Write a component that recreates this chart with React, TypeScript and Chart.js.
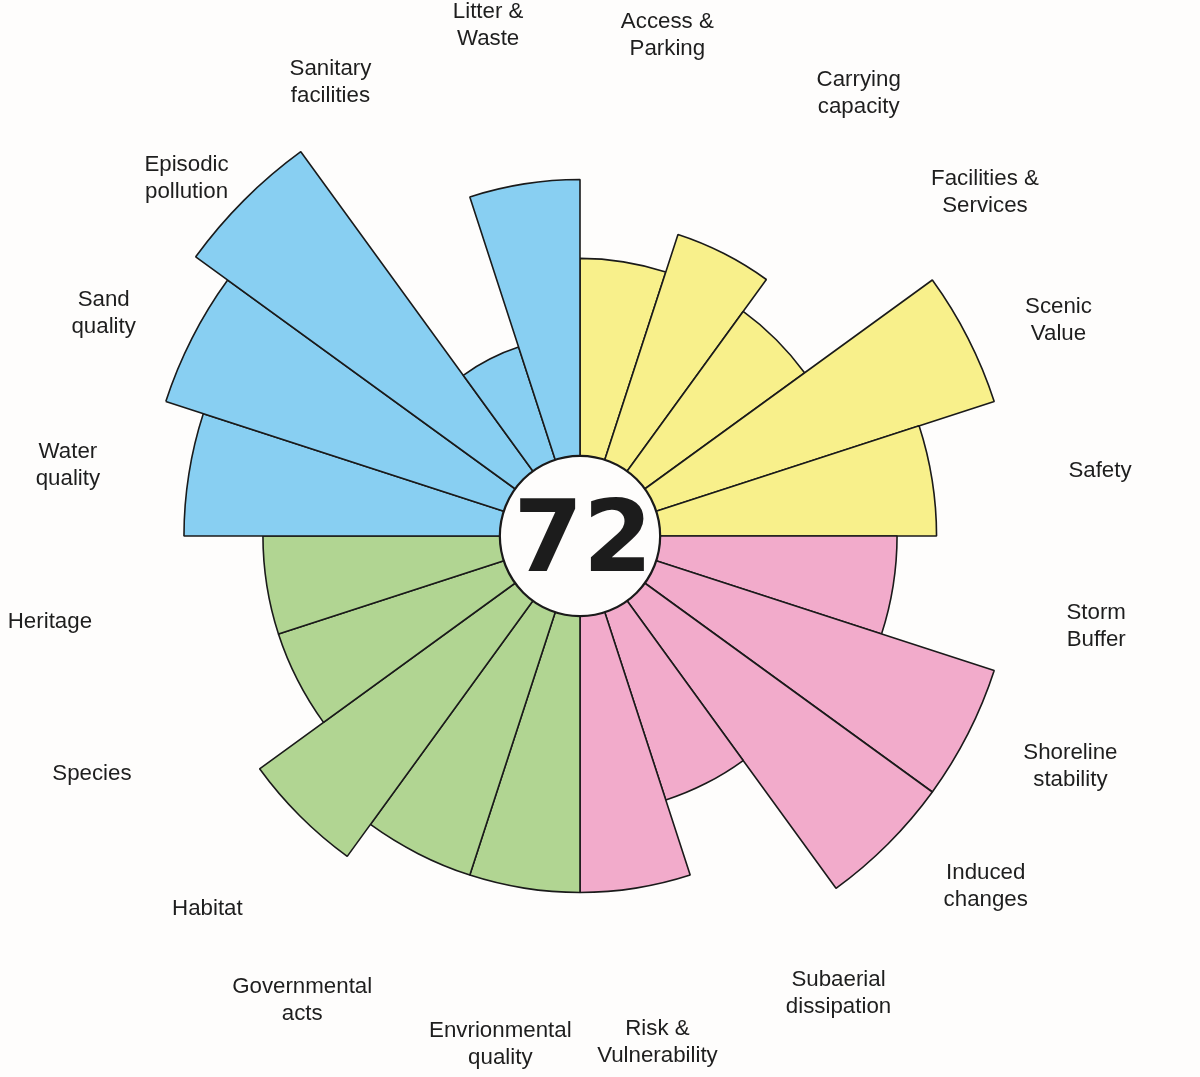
import React, { useEffect, useRef } from "react";
import { Chart, registerables } from "chart.js";

Chart.register(...registerables);

// ---- data ----
const categories: string[][] = [
  ["Access &", "Parking"],
  ["Carrying", "capacity"],
  ["Facilities &", "Services"],
  ["Scenic", "Value"],
  ["Safety"],
  ["Storm", "Buffer"],
  ["Shoreline", "stability"],
  ["Induced", "changes"],
  ["Subaerial", "dissipation"],
  ["Risk &", "Vulnerability"],
  ["Envrionmental", "quality"],
  ["Governmental", "acts"],
  ["Habitat"],
  ["Species"],
  ["Heritage"],
  ["Water", "quality"],
  ["Sand", "quality"],
  ["Episodic", "pollution"],
  ["Sanitary", "facilities"],
  ["Litter &", "Waste"],
];
const scores = [5, 6, 5, 9, 7, 6, 9, 9, 5, 7, 7, 7, 8, 6, 6, 8, 9, 10, 3, 7];
const groupOf = [0, 0, 0, 0, 0, 1, 1, 1, 1, 1, 2, 2, 2, 2, 2, 3, 3, 3, 3, 3];
const groupColors = ["#f8f08b", "#f2abcb", "#b1d592", "#88cff2"];
const totalScore = "72";
const scaleMin = -2.03; // hub occupies the value range below 0
const scaleMax = 10;

// ---- label layout (angle nudge in degrees, gap beyond outer ring in px) ----
const labelAngleNudge = [0.9, 5.2, 4.7, 2.7, 1.9, 0.9, -1.8, -4.2, -2.5, 0.3, -0.1, 3.9, 0, 1, -0.2, -1.1, -1.9, -2.7, -1.8, -1.2];
const labelGap = [33, 48, 56, 50, 49, 49, 67, 61, 50, 37, 40, 66, 52, 68, 62, 42, 51, 57, 43, 44];

const hubPlugin = {
  id: "hub",
  afterDatasetsDraw(chart: any) {
    const scale = chart.scales.r;
    const ctx = chart.ctx;
    const cx = scale.xCenter;
    const cy = scale.yCenter;
    const r = scale.getDistanceFromCenterForValue(0);
    ctx.save();
    ctx.beginPath();
    ctx.arc(cx, cy, r, 0, Math.PI * 2);
    ctx.fillStyle = "#fefdfc";
    ctx.fill();
    ctx.lineWidth = 2.2;
    ctx.strokeStyle = "#1a1a1a";
    ctx.stroke();
    ctx.fillStyle = "#1c1c1c";
    ctx.font = "bold 100px 'DejaVu Sans'";
    ctx.textAlign = "center";
    ctx.textBaseline = "alphabetic";
    ctx.fillText(totalScore, cx + 3, cy + 35);
    ctx.restore();
  },
  afterDraw(chart: any) {
    const scale = chart.scales.r;
    const ctx = chart.ctx;
    const n = categories.length;
    const outer = scale.getDistanceFromCenterForValue(scaleMax);
    ctx.save();
    ctx.fillStyle = "#1e1e1e";
    ctx.font = "22.3px 'Liberation Sans', Arial, sans-serif";
    ctx.textAlign = "center";
    ctx.textBaseline = "middle";
    const lh = 27;
    categories.forEach((lines, i) => {
      const a = -Math.PI / 2 + ((i + 0.5) * 2 * Math.PI) / n + (labelAngleNudge[i] * Math.PI) / 180;
      const d = outer + labelGap[i];
      const x = scale.xCenter + Math.cos(a) * d;
      const y = scale.yCenter + Math.sin(a) * d;
      lines.forEach((t, k) => {
        ctx.fillText(t, x, y + (k - (lines.length - 1) / 2) * lh);
      });
    });
    ctx.restore();
  },
};

export default function App() {
  const ref = useRef<HTMLCanvasElement | null>(null);
  useEffect(() => {
    document.body.style.margin = "0";
    const chart = new Chart(ref.current as HTMLCanvasElement, {
      type: "polarArea",
      data: {
        labels: categories.map((c) => c.join(" ")),
        datasets: [
          {
            data: scores,
            backgroundColor: groupOf.map((g) => groupColors[g]),
            borderColor: "#1a1a1a",
            borderWidth: 1.6,
          },
        ],
      },
      options: {
        responsive: false,
        animation: false,
        layout: { padding: { left: 105, right: 145, top: 61, bottom: 66 } },
        plugins: { legend: { display: false }, tooltip: { enabled: false } },
        scales: {
          r: {
            min: scaleMin,
            max: scaleMax,
            startAngle: 0,
            ticks: { display: false },
            grid: { display: false },
            angleLines: { display: false },
            pointLabels: { display: false },
          },
        },
      },
      plugins: [hubPlugin],
    } as any);
    return () => chart.destroy();
  }, []);
  return (
    <div style={{ width: 1200, height: 1077, background: "#fefdfc" }}>
      <canvas ref={ref} width={1200} height={1077} style={{ display: "block" }} />
    </div>
  );
}
